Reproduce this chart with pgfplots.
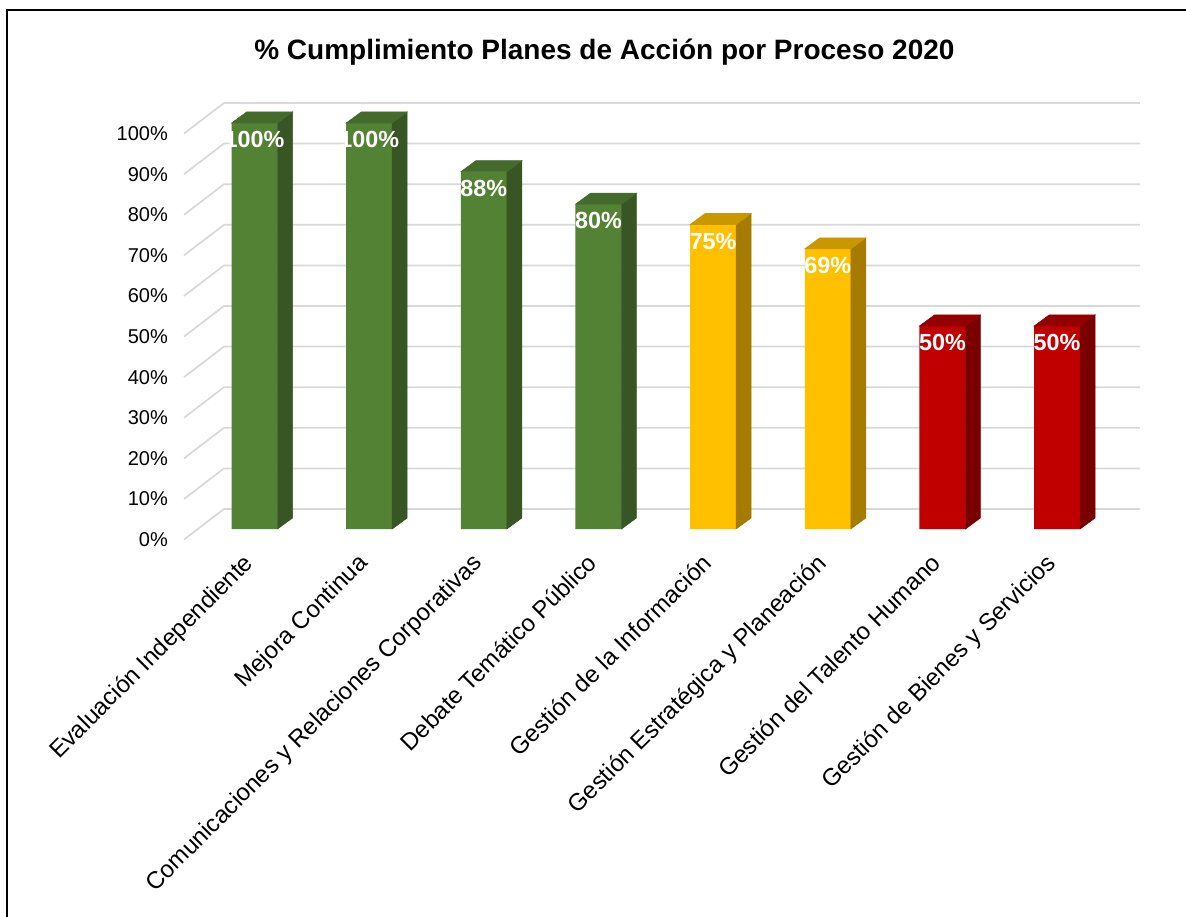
\documentclass[border=0pt]{standalone}
\usepackage{pgfplots}
\pgfplotsset{compat=1.18}
\usepackage{pgfplotstable}
\usepackage{fontspec}
\setmainfont{Liberation Sans}

\definecolor{gfront}{HTML}{548235}
\definecolor{gside}{HTML}{375623}
\definecolor{gtop}{HTML}{446B2B}
\definecolor{yfront}{HTML}{FFC000}
\definecolor{yside}{HTML}{A57C00}
\definecolor{ytop}{HTML}{C99700}
\definecolor{rfront}{HTML}{C00000}
\definecolor{rside}{HTML}{7A0000}
\definecolor{rtop}{HTML}{920000}
\definecolor{gridc}{HTML}{D9D9D9}

\pgfplotstableread{
x y
0 100
1 100
2 88
3 80
}\greendata
\pgfplotstableread{
x y
4 75
5 69
}\yellowdata
\pgfplotstableread{
x y
6 50
7 50
}\reddata

\pgfdeclareplotmark{blank}{}

% 3D side and top faces, drawn at each data point (front-face top centre)
\pgfplotsset{
  faces/.style 2 args={
    only marks, mark=blank, scatter, point meta=explicit symbolic,
    scatter/@pre marker code/.code={%
      \pgfmathsetmacro\hh{-\pgfplotspointmeta*3.045}%
      \pgfmathsetmacro\hb{8.25-\pgfplotspointmeta*3.045}%
      \fill[#1] (17.25pt,0pt) -- (28.5pt,8.25pt) -- (28.5pt,\hb pt) -- (17.25pt,\hh pt) -- cycle;
      \fill[#2] (-17.25pt,0pt) -- (17.25pt,0pt) -- (28.5pt,8.25pt) -- (-6pt,8.25pt) -- cycle;
    },
    scatter/@post marker code/.code={},
  },
  front/.style={
    ybar, bar width=34.5pt, bar shift=0pt, fill=#1, draw=none,
    nodes near coords={\pgfmathprintnumber{\pgfplotspointmeta}\%},
    every node near coord/.append style={text=white, font=\bfseries\fontsize{17.5}{21}\selectfont,
      anchor=center, yshift=-12.5pt},
  },
  grid3d/.style={gridc, line width=1.3pt, no marks},
}

\begin{document}
\begin{tikzpicture}
\useasboundingbox (-147.9pt,-291pt) rectangle (741.6pt,396.75pt);
\fill[white] (-147.9pt,-291pt) rectangle (741.6pt,396.75pt);
\draw[black, line width=1.1pt] (-142.65pt,-291pt) -- (-142.65pt,389.25pt) -- (741.6pt,389.25pt);
\begin{axis}[
  at={(0pt,0pt)}, anchor=south west,
  scale only axis, width=687.9pt, height=304.5pt,
  xmin=-0.5, xmax=7.5, ymin=0, ymax=100,
  clip=false,
  axis line style={draw=none},
  major tick length=0pt,
  /pgf/number format/assume math mode=true,
  ytick={0,10,...,100},
  yticklabel={\pgfmathprintnumber{\tick}\%},
  yticklabel style={font=\fontsize{15}{18}\selectfont, anchor=east, xshift=-18.5pt, yshift=-8pt},
  xtick={0,1,2,3,4,5,6,7},
  xticklabels={Evaluación Independiente, Mejora Continua, Comunicaciones y Relaciones Corporativas, Debate Temático Público, Gestión de la Información, Gestión Estratégica y Planeación, Gestión del Talento Humano, Gestión de Bienes y Servicios},
  xticklabel style={font=\fontsize{18}{21}\selectfont, inner sep=0pt, xshift=-9.5pt, yshift=-17pt, rotate=45, anchor=north east},
]
% 3D gridlines (front edge -> back wall)
\addplot[grid3d] coordinates {(-0.615,-2.6) (-0.266,4.93) (7.723,4.93)};
\addplot[grid3d] coordinates {(-0.615,7.4) (-0.266,14.93) (7.723,14.93)};
\addplot[grid3d] coordinates {(-0.615,17.4) (-0.266,24.93) (7.723,24.93)};
\addplot[grid3d] coordinates {(-0.615,27.4) (-0.266,34.93) (7.723,34.93)};
\addplot[grid3d] coordinates {(-0.615,37.4) (-0.266,44.93) (7.723,44.93)};
\addplot[grid3d] coordinates {(-0.615,47.4) (-0.266,54.93) (7.723,54.93)};
\addplot[grid3d] coordinates {(-0.615,57.4) (-0.266,64.93) (7.723,64.93)};
\addplot[grid3d] coordinates {(-0.615,67.4) (-0.266,74.93) (7.723,74.93)};
\addplot[grid3d] coordinates {(-0.615,77.4) (-0.266,84.93) (7.723,84.93)};
\addplot[grid3d] coordinates {(-0.615,87.4) (-0.266,94.93) (7.723,94.93)};
\addplot[grid3d] coordinates {(-0.615,97.4) (-0.266,104.93) (7.723,104.93)};
% side and top faces
\addplot[faces={gside}{gtop}] table[x=x, y=y, meta=y] {\greendata};
\addplot[faces={yside}{ytop}] table[x=x, y=y, meta=y] {\yellowdata};
\addplot[faces={rside}{rtop}] table[x=x, y=y, meta=y] {\reddata};
% front faces
\addplot[front=gfront] table[x=x, y=y] {\greendata};
\addplot[front=yfront] table[x=x, y=y] {\yellowdata};
\addplot[front=rfront] table[x=x, y=y] {\reddata};
\end{axis}
\node[anchor=base, font=\bfseries\fontsize{21}{25}\selectfont] at (305.4pt,351.75pt)
  {\% Cumplimiento Planes de Acción por Proceso 2020};
\end{tikzpicture}
\end{document}
